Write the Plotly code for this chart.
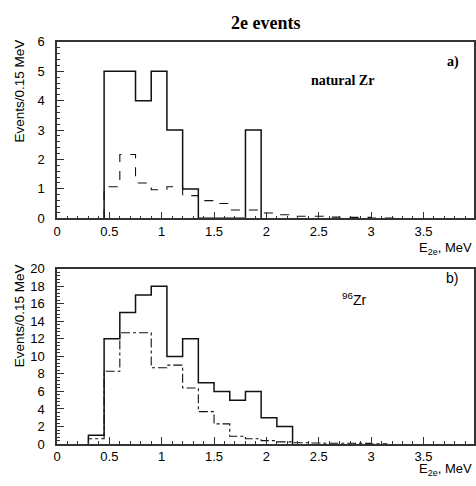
import plotly.graph_objects as go

BIN_WIDTH = 0.15

# Panel a) natural Zr : bins start at 0.45 MeV
a_start = 0.45
a_data = [5, 5, 4, 5, 3, 1, 0, 0, 0, 3]
a_mc = [1.07, 2.17, 1.2, 0.97, 1.07, 0.77, 0.6, 0.5, 0.28, 0.28,
        0.18, 0.12, 0.07, 0.07, 0.04, 0.03, 0.03, 0.01, 0.01]

# Panel b) 96Zr : bins start at 0.30 MeV
b_start = 0.30
b_data = [1, 12, 15, 17, 18, 10, 12, 7, 6, 5, 6, 3, 2]
b_mc = [0.6, 8.3, 12.7, 12.7, 8.7, 9.0, 6.4, 3.7, 2.3, 0.9, 0.6, 0.4,
        0.25, 0.15, 0.12, 0.1, 0.1, 0.08, 0.02]

x_ticks = [0, 0.5, 1, 1.5, 2, 2.5, 3, 3.5, 4]
x_tick_labels = ["0", "0.5", "1", "1.5", "2", "2.5", "3", "3.5", "4"]


def step_xy(start, counts):
    edges = [round(start + i * BIN_WIDTH, 4) for i in range(len(counts) + 1)]
    xs = [edges[0]] + edges
    ys = [0] + list(counts) + [0]
    return xs, ys


W, H = 476, 486
L = 57
fig = go.Figure()

traces = [
    (a_start, a_data, "x", "y", "solid", 1.5),
    (a_start, a_mc, "x", "y", "dash", 1.1),
    (b_start, b_data, "x2", "y2", "solid", 1.5),
    (b_start, b_mc, "x2", "y2", "dashdot", 1.1),
]
for start, counts, xa, ya, dash, w in traces:
    xs, ys = step_xy(start, counts)
    fig.add_trace(go.Scatter(x=xs, y=ys, xaxis=xa, yaxis=ya, mode="lines",
                             line=dict(shape="hv", color="#111", width=w, dash=dash),
                             showlegend=False, hoverinfo="skip"))

def pdom(top_px, bot_px):
    return [1 - bot_px / H, 1 - top_px / H]

xr = [0, (W - L) / 105.2]
tickfont = dict(family="Liberation Sans, Arial, sans-serif", size=13, color="black")
axcommon = dict(showline=True, linecolor="#333", linewidth=1.5, mirror=True,
                ticks="inside", tickcolor="#333", showgrid=False, zeroline=False,
                tickfont=tickfont)

fig.update_layout(
    width=W, height=H,
    margin=dict(l=L, r=0, t=0, b=0),
    plot_bgcolor="white", paper_bgcolor="white",
    xaxis=dict(domain=[0, 1], range=xr, anchor="y", tickvals=x_ticks, ticktext=x_tick_labels,
               ticklen=7, minor=dict(ticks="inside", ticklen=3, dtick=0.1, tickcolor="#333"),
               **axcommon),
    yaxis=dict(domain=pdom(36, 218), range=[0, 6], anchor="x", dtick=1, ticklen=7,
               ticklabelstandoff=8,
               minor=dict(ticks="inside", ticklen=3, dtick=0.2, tickcolor="#333"),
               **axcommon),
    xaxis2=dict(domain=[0, 1], range=xr, anchor="y2", tickvals=x_ticks, ticktext=x_tick_labels,
                ticklen=7, minor=dict(ticks="inside", ticklen=3, dtick=0.1, tickcolor="#333"),
                **axcommon),
    yaxis2=dict(domain=pdom(270, 451), range=[0, 20], anchor="x2", dtick=2, ticklen=7,
                ticklabelstandoff=8,
                minor=dict(ticks="inside", ticklen=3, dtick=0.4, tickcolor="#333"),
                **axcommon),
)

def px_x(px):
    return (px - L) / (W - L)

def px_y(py):
    return 1 - py / H

serif = "Liberation Serif, Times New Roman, serif"
sans = "Liberation Sans, Arial, sans-serif"
ann = [
    dict(text="<b>2e events</b>", x=px_x(267), y=px_y(16), font=dict(family=serif, size=18)),
    dict(text="<b>natural Zr</b>", x=px_x(310), y=px_y(76), xanchor="left", font=dict(family=serif, size=14)),
    dict(text="<b>a)</b>", x=px_x(447), y=px_y(57), xanchor="left", font=dict(family=serif, size=14)),
    dict(text="b)", x=px_x(446), y=px_y(280), xanchor="left", font=dict(family=sans, size=14)),
    dict(text="<sup>96</sup>Zr", x=px_x(341), y=px_y(301), xanchor="left", font=dict(family=sans, size=14)),
    dict(text="E<sub>2e</sub>, MeV", x=1, y=px_y(249), xanchor="right", font=dict(family=sans, size=13)),
    dict(text="E<sub>2e</sub>, MeV", x=1, y=px_y(477), xanchor="right", font=dict(family=sans, size=13)),
    dict(text="Events/0.15 MeV", x=px_x(19), y=px_y(87), textangle=-90, font=dict(family=sans, size=13.5)),
    dict(text="Events/0.15 MeV", x=px_x(19), y=px_y(319), textangle=-90, font=dict(family=sans, size=13.5)),
]
for a in ann:
    a.setdefault("xanchor", "center")
    a.update(xref="paper", yref="paper", showarrow=False, yanchor="middle")
    a["font"]["color"] = "black"
    fig.add_annotation(**a)

fig.write_html("out.html", config={"displayModeBar": False},
               post_script="document.body.style.margin='0px';document.body.style.overflow='hidden';")
